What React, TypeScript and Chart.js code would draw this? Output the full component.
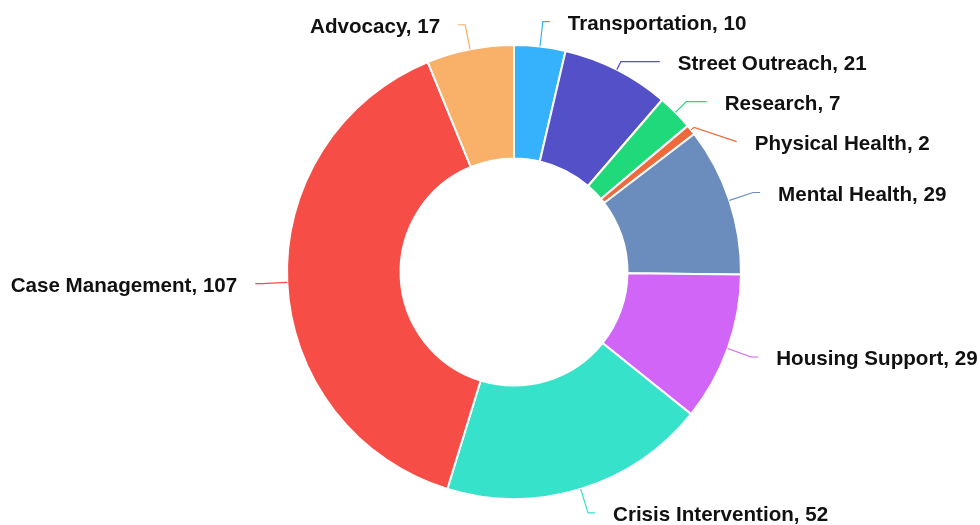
import React, { useEffect, useRef } from "react";
import { Chart, registerables } from "chart.js";

Chart.register(...registerables);

const categories = [
  "Transportation",
  "Street Outreach",
  "Research",
  "Physical Health",
  "Mental Health",
  "Housing Support",
  "Crisis Intervention",
  "Case Management",
  "Advocacy",
];
const values = [10, 21, 7, 2, 29, 29, 52, 107, 17];
const colors = [
  "#36b1fb",
  "#5450c8",
  "#20d97a",
  "#ee6a3c",
  "#6b8dbd",
  "#d065f7",
  "#36e2c9",
  "#f64d46",
  "#f9b068",
];

const outLabels = {
  id: "outLabels",
  afterDraw(chart: any) {
    const meta = chart.getDatasetMeta(0);
    const ctx = chart.ctx;
    const labelDist = 25;
    const minGap = 40;
    const items: any[] = [];
    meta.data.forEach((arc: any, i: number) => {
      const p = arc.getProps(["x", "y", "startAngle", "endAngle", "outerRadius"], true);
      const theta = (p.startAngle + p.endAngle) / 2;
      const R = p.outerRadius;
      const right = Math.cos(theta) >= 0;
      items.push({
        i,
        theta,
        R,
        cx: p.x,
        cy: p.y,
        right,
        y: p.y + (R + labelDist) * Math.sin(theta),
      });
    });
    [true, false].forEach((side) => {
      const list = items.filter((d) => d.right === side).sort((a, b) => a.y - b.y);
      for (let k = 1; k < list.length; k++) {
        if (list[k].y < list[k - 1].y + minGap) list[k].y = list[k - 1].y + minGap;
      }
    });
    ctx.save();
    ctx.font = "bold 20.6px 'Liberation Sans', Arial, sans-serif";
    ctx.textBaseline = "middle";
    items.forEach((d) => {
      const { cx, cy, R, theta, right } = d;
      const LR = R + labelDist;
      const dy = d.y - cy;
      const dx = Math.sqrt(Math.max(LR * LR - dy * dy, 0));
      const sgn = right ? 1 : -1;
      const lx = cx + sgn * dx;
      const lineEnd = lx + sgn * 7;
      const textX = lineEnd + sgn * 18;
      const tx = cx + R * Math.cos(theta);
      const ty = cy + R * Math.sin(theta);
      ctx.strokeStyle = colors[d.i];
      ctx.lineWidth = 1.2;
      ctx.beginPath();
      ctx.moveTo(tx, ty);
      let done = false;
      const s = Math.sin(theta);
      if (Math.abs(s) > 1e-6) {
        const t = dy / s;
        if (t >= R) {
          const crookX = cx + t * Math.cos(theta);
          if (right ? crookX <= lineEnd : crookX >= lineEnd) {
            ctx.lineTo(crookX, d.y);
            done = true;
          }
        }
      }
      if (!done) {
        ctx.lineTo(cx + (R + 4) * Math.cos(theta), cy + (R + 4) * Math.sin(theta));
      }
      ctx.lineTo(lineEnd, d.y);
      ctx.stroke();
      ctx.fillStyle = "#111111";
      ctx.textAlign = right ? "left" : "right";
      ctx.fillText(`${categories[d.i]}, ${values[d.i]}`, textX, d.y + 2.5);
    });
    ctx.restore();
  },
};

export default function App() {
  const ref = useRef<HTMLCanvasElement | null>(null);
  useEffect(() => {
    if (!ref.current) return;
    const chart = new Chart(ref.current, {
      type: "doughnut",
      data: {
        labels: categories,
        datasets: [
          {
            data: values,
            backgroundColor: colors,
            borderColor: "#ffffff",
            borderWidth: 2,
            hoverOffset: 0,
          },
        ],
      },
      options: {
        responsive: true,
        maintainAspectRatio: false,
        animation: false,
        cutout: "50%",
        layout: { padding: { left: 286, right: 238, top: 44, bottom: 25 } },
        plugins: {
          legend: { display: false },
          tooltip: { enabled: false },
        },
      },
      plugins: [outLabels],
    });
    return () => chart.destroy();
  }, []);
  return (
    <div style={{ position: "absolute", left: 0, top: 0, width: 980, height: 525, background: "#fff" }}>
      <canvas ref={ref} />
    </div>
  );
}
